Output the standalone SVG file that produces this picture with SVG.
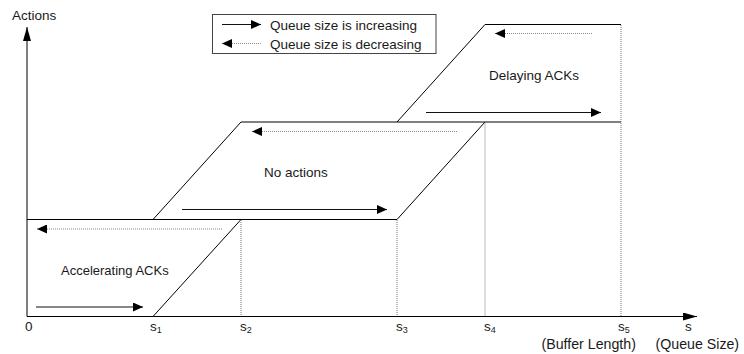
<svg xmlns="http://www.w3.org/2000/svg" width="744" height="354" viewBox="0 0 744 354">
<defs>
<style>
text{font-family:"Liberation Sans",Arial,sans-serif;fill:#1a1a1a;font-size:13.5px}
.big{font-size:14.2px}
.sub{font-size:9px}
.ln{stroke:#000;stroke-width:1;fill:none}
.dot{stroke:#777;stroke-width:1;stroke-dasharray:1 1;fill:none}
.inc{stroke:#111;stroke-width:1.2;fill:none;marker-end:url(#ah)}
.dec{stroke:#888;stroke-width:1.2;stroke-dasharray:1 1;fill:none;marker-end:url(#ah)}
</style>
<marker id="ah" markerUnits="userSpaceOnUse" markerWidth="11" markerHeight="9" refX="10" refY="4.5" orient="auto">
<path d="M0,0 L10,4.5 L0,9 z" fill="#000"/>
</marker>
<marker id="axh" markerUnits="userSpaceOnUse" markerWidth="14" markerHeight="8" refX="14" refY="4" orient="auto">
<path d="M0,0 L14,4 L0,8 z" fill="#000"/>
</marker>
</defs>
<rect width="744" height="354" fill="#fff"/>
<g id="axes">
<line class="ln" x1="27" y1="316.5" x2="27" y2="27" marker-end="url(#axh)"/>
<line class="ln" x1="27" y1="316.5" x2="697" y2="316.5" marker-end="url(#axh)"/>
<text x="12" y="20">Actions</text>
<text x="25" y="331">0</text>
<text x="150" y="331">s<tspan class="sub" dy="2">1</tspan></text>
<text x="240" y="331">s<tspan class="sub" dy="2">2</tspan></text>
<text x="396" y="331">s<tspan class="sub" dy="2">3</tspan></text>
<text x="484" y="331">s<tspan class="sub" dy="2">4</tspan></text>
<text x="618" y="331">s<tspan class="sub" dy="2">5</tspan></text>
<text x="685" y="331">s</text>
<text class="big" x="541.5" y="348.5">(Buffer Length)</text>
<text class="big" x="655.5" y="348.5">(Queue Size)</text>
</g>
<g id="legend">
<rect x="212.5" y="14.5" width="223.5" height="39" fill="none" stroke="#444" stroke-width="1"/>
<line class="inc" x1="222" y1="24.5" x2="261" y2="24.5"/>
<line class="dec" x1="261" y1="43.5" x2="222" y2="43.5"/>
<text x="270" y="29.5">Queue size is increasing</text>
<text x="270" y="48.5">Queue size is decreasing</text>
</g>
<g id="accelerating">
<line class="ln" x1="27" y1="219.5" x2="397" y2="219.5"/>
<line class="ln" x1="153" y1="316.5" x2="241" y2="219.5"/>
<text x="61" y="275" style="font-size:13px">Accelerating ACKs</text>
</g>
<g id="no-actions">
<line class="ln" x1="153" y1="219.5" x2="241" y2="122"/>
<line class="ln" x1="241" y1="122" x2="621" y2="122"/>
<line class="ln" x1="397" y1="219.5" x2="485" y2="122"/>
<text x="264" y="176.5">No actions</text>
</g>
<g id="delaying">
<line class="ln" x1="397" y1="122" x2="485" y2="24.5"/>
<line class="ln" x1="485" y1="24.5" x2="621" y2="24.5"/>
<text x="489" y="80">Delaying ACKs</text>
</g>
<g id="guides">
<line class="dot" x1="241" y1="220" x2="241" y2="316"/>
<line class="dot" x1="397" y1="220" x2="397" y2="316"/>
<line class="dot" x1="485" y1="122.5" x2="485" y2="316"/>
<line class="dot" x1="621" y1="25" x2="621" y2="316"/>
</g>
<g id="connectors">
<line class="inc" x1="36" y1="307" x2="143" y2="307"/>
<line class="dec" x1="222" y1="229" x2="37" y2="229"/>
<line class="inc" x1="182" y1="209.5" x2="387" y2="209.5"/>
<line class="dec" x1="457" y1="131.5" x2="252" y2="131.5"/>
<line class="inc" x1="426" y1="112.5" x2="601" y2="112.5"/>
<line class="dec" x1="592" y1="33.5" x2="495" y2="33.5"/>
</g>
</svg>
